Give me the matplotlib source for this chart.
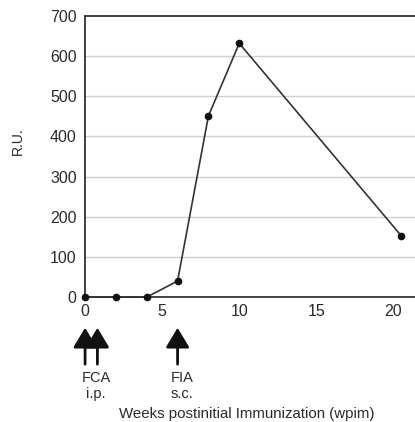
import matplotlib.pyplot as plt

# response over time
semanas = [0, 2, 4, 6, 8, 10, 20.5]
ru = [0, 0, 0, 40, 451, 632, 153]

y_ticks = [0, 100, 200, 300, 400, 500, 600, 700]
x_ticks = [0, 5, 10, 15, 20]

# immunizations
fca_semanas = [0, 0.8]
fia_semanas = [6]

plt.rcParams['font.family'] = ['Liberation Sans', 'DejaVu Sans']


def main():
    fig = plt.figure(figsize=(4.15, 4.22), dpi=100)
    ax = fig.add_axes([0.205, 0.296, 0.795, 0.666])

    for v in y_ticks[1:-1]:
        ax.axhline(v, color="#d0d0d0", lw=1.0, zorder=0)

    ax.plot(semanas, ru, color="#333333", lw=1.2, marker="o", markersize=4.5,
            markerfacecolor="#111111", markeredgecolor="#111111", clip_on=False, zorder=3)

    ax.set_xlim(0, 21.4)
    ax.set_ylim(0, 700)
    ax.set_xticks(x_ticks)
    ax.set_yticks(y_ticks)
    ax.tick_params(length=0, labelsize=11.5, colors="#2a2a2a")
    ax.tick_params(axis="y", pad=6)
    ax.tick_params(axis="x", pad=5)

    for lado in ["left", "top", "bottom"]:
        ax.spines[lado].set_color("#333333")
        ax.spines[lado].set_linewidth(1.3)
    ax.spines["right"].set_visible(False)

    y_base = 1 - 367 / 422
    y_ponta = 1 - 325 / 422
    for x in fca_semanas + fia_semanas:
        ax.annotate("", xy=(x, y_ponta), xytext=(x, y_base),
                    xycoords=("data", "figure fraction"),
                    textcoords=("data", "figure fraction"),
                    arrowprops=dict(arrowstyle="-|>,head_width=0.45,head_length=0.75",
                                    mutation_scale=16, lw=2, color="#111111"),
                    annotation_clip=False)

    y_txt = 1 - 386 / 422
    fig.text(96 / 415, y_txt, "FCA\ni.p.", ha="center", va="center",
             fontsize=10.5, color="#2a2a2a", linespacing=1.25)
    fig.text(182 / 415, y_txt, "FIA\ns.c.", ha="center", va="center",
             fontsize=10.5, color="#2a2a2a", linespacing=1.25)

    fig.text(247 / 415, 1 - 414 / 422, "Weeks postinitial Immunization (wpim)",
             ha="center", va="center", fontsize=10.8, color="#2a2a2a")
    fig.text(18 / 415, 1 - 141 / 422, "R.U.", ha="center", va="center",
             rotation=90, fontsize=10, color="#2a2a2a")

    fig.savefig("out.png", dpi=100)


if __name__ == "__main__":
    main()
